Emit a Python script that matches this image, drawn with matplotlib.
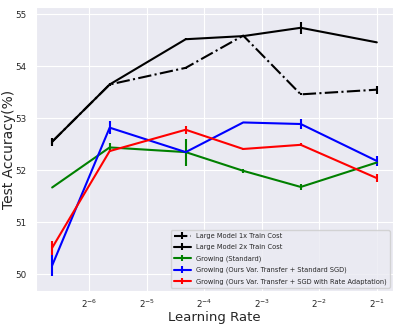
import matplotlib
matplotlib.use("Agg")
import matplotlib.pyplot as plt
import seaborn as sns

sns.set_style("darkgrid")

lr = [0.01, 0.02, 0.05, 0.1, 0.2, 0.5]

large_1x = [52.55, 53.65, 53.97, 54.59, 53.46, 53.55]
large_1x_err = [0.05, 0.02, 0.02, 0.02, 0.02, 0.08]
large_2x = [52.55, 53.65, 54.52, 54.58, 54.74, 54.46]
large_2x_err = [0.08, 0.02, 0.02, 0.02, 0.12, 0.0]
grow_std = [51.67, 52.44, 52.35, 51.99, 51.68, 52.15]
grow_std_err = [0.0, 0.08, 0.26, 0.04, 0.06, 0.02]
grow_vt = [50.17, 52.82, 52.35, 52.92, 52.89, 52.18]
grow_vt_err = [0.2, 0.12, 0.02, 0.01, 0.1, 0.1]
grow_ra = [50.51, 52.37, 52.78, 52.41, 52.49, 51.85]
grow_ra_err = [0.13, 0.02, 0.08, 0.02, 0.03, 0.07]

fig, ax = plt.subplots(figsize=(3.99, 3.32), dpi=100)

ax.errorbar(lr, large_1x, yerr=large_1x_err, color="black", linestyle="-.",
            label="Large Model 1x Train Cost")
ax.errorbar(lr, large_2x, yerr=large_2x_err, color="black", linestyle="-",
            label="Large Model 2x Train Cost")
ax.errorbar(lr, grow_std, yerr=grow_std_err, color="green",
            label="Growing (Standard)")
ax.errorbar(lr, grow_vt, yerr=grow_vt_err, color="blue",
            label="Growing (Ours Var. Transfer + Standard SGD)")
ax.errorbar(lr, grow_ra, yerr=grow_ra_err, color="red",
            label="Growing (Ours Var. Transfer + SGD with Rate Adaptation)")

ax.set_xscale("log", base=2)
ax.set_ylim(49.68, 55.14)
ax.tick_params(axis="both", labelsize=6.3)
ax.tick_params(axis="x", pad=1.5)
ax.tick_params(axis="y", pad=3)
ax.set_xlabel("Learning Rate", fontsize=9.5)
ax.set_ylabel("Test Accuracy(%)", fontsize=10)
ax.xaxis.set_label_coords(0.5, -0.072)
ax.yaxis.set_label_coords(-0.056, 0.5)
ax.legend(loc="lower right", fontsize=4.8, handlelength=2.6, labelspacing=0.77)

fig.subplots_adjust(left=0.09, right=0.985, top=0.979, bottom=0.1235)
fig.savefig("out.png", dpi=100)
